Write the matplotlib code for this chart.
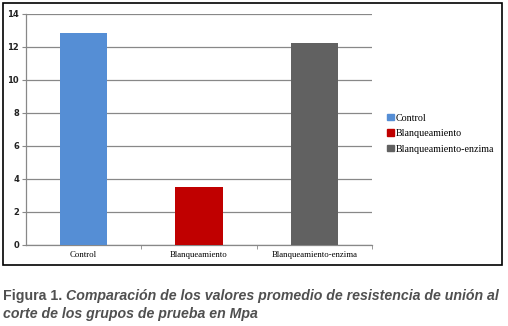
import matplotlib
matplotlib.use('Agg')
import matplotlib.pyplot as plt
from matplotlib.patches import Rectangle, Patch

categories = ['Control', 'Blanqueamiento', 'Blanqueamiento-enzima']
values = [12.85, 3.5, 12.25]
colors = ['#558ed5', '#c00000', '#616161']
yticks = [0, 2, 4, 6, 8, 10, 12, 14]

fig = plt.figure(figsize=(5.08, 3.26), dpi=100)
ax = fig.add_axes([0.0512, 0.2485, 0.681, 0.7086])

x = range(len(categories))
ax.bar(x, values, width=0.41, color=colors, zorder=3)

ax.set_xlim(-0.5, 2.5)
ax.set_ylim(0, 14)
ax.set_yticks(yticks)
ax.set_yticklabels([str(t) for t in yticks], fontsize=6, fontweight='bold', color='#222222')
ax.set_xticks(list(x))
ax.set_xticklabels(categories, fontsize=6.3, family='Liberation Serif')
ax.tick_params(axis='x', length=0, pad=4)
ax.tick_params(axis='y', length=3, color='#888888', pad=2)
ax.set_xticks([0.5, 1.5, 2.5], minor=True)
ax.tick_params(axis='x', which='minor', length=3, color='#888888')
ax.grid(axis='y', color='#888888', linewidth=0.9, zorder=0)
for s in ['top', 'right']:
    ax.spines[s].set_visible(False)
for s in ['left', 'bottom']:
    ax.spines[s].set_color('#888888')
    ax.spines[s].set_linewidth(0.9)

handles = [Patch(color=c) for c in colors]
fig.legend(handles, categories, loc='center left', bbox_to_anchor=(0.745, 0.59),
           frameon=False, prop={'family': 'Liberation Serif', 'size': 7.2},
           handlelength=0.65, handleheight=0.65, handletextpad=0.2, labelspacing=0.65)

fig.add_artist(Rectangle((3 / 508, 1 - 265 / 326), 499 / 508, 262 / 326,
                         transform=fig.transFigure, fill=False, edgecolor='black', linewidth=1.2))

# caption: bold "Figura 1." then bold italic text, fitted to the width
cap_font = 'Liberation Sans'
cap_col = '#505050'
size = 10
t1 = fig.text(3 / 508, 1 - 300 / 326, 'Figura 1. ', family=cap_font, fontsize=size,
              fontweight='bold', color=cap_col, va='baseline')
t2 = fig.text(0, 1 - 300 / 326, 'Comparación de los valores promedio de resistencia de unión al',
              family=cap_font, fontsize=size, fontweight='bold', style='italic', color=cap_col, va='baseline')
t3 = fig.text(3 / 508, 1 - 318 / 326, 'corte de los grupos de prueba en Mpa',
              family=cap_font, fontsize=size, fontweight='bold', style='italic', color=cap_col, va='baseline')
r = fig.canvas.get_renderer()
total = t1.get_window_extent(r).width + t2.get_window_extent(r).width
size = size * 498 / total
for t in (t1, t2, t3):
    t.set_fontsize(size)
w1 = t1.get_window_extent(r).width
t2.set_x((3 + w1) / 508)

fig.savefig('out.png', dpi=100)
